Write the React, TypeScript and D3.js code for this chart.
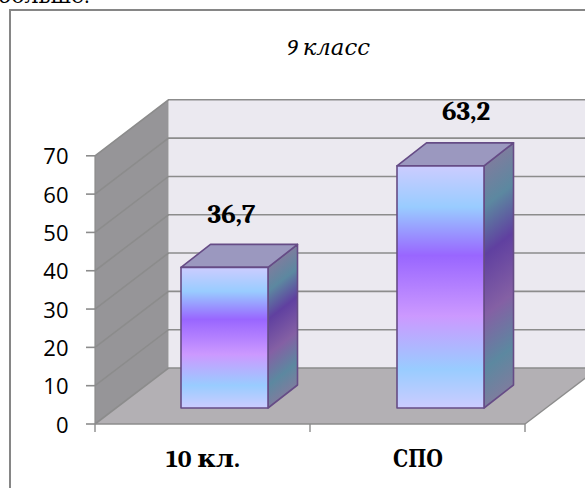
import React from "react";
import * as d3 from "d3";

const categories = ["10 кл.", "СПО"];
const values = [36.7, 63.2];
const valueLabels = ["36,7", "63,2"];
const yTicks = [0, 10, 20, 30, 40, 50, 60, 70];
const chartTitle = "9 класс";
const pageText = "больше:";

const W = 585, H = 488;
const y = d3.scaleLinear().domain([0, 70]).range([424, 155.8]);
const x = d3.scaleBand<string>().domain(categories).range([118, 550]);
const floorDX = 73.5, floorDY = -56;
const barDX = 29.5, barDY = -23;
const barW = 87;
const barBottomShift = -16;
const labelX = [231.5, 466];
const labelY = [222.5, 120];
const catX = [166, 393];
const catW = [74, 50];

const serif = "'Cambria', 'DejaVu Serif', serif";
const sans = "'Open Sans', 'Noto Sans', sans-serif";
const pts = (a: number[][]) => a.map(p => p.join(",")).join(" ");

const frontStops: [number, string][] = [[0, "#ccccff"], [0.17, "#99ccff"], [0.37, "#9966ff"], [0.62, "#cc99ff"], [0.84, "#99ccff"], [1, "#ccccff"]];
const sideStops: [number, string][] = [[0, "#7d7d9e"], [0.17, "#5c88a0"], [0.37, "#6040a0"], [0.62, "#8460a4"], [0.84, "#5c88a0"], [1, "#7d7d9e"]];

export default function App() {
  const y0 = y(0), yT = y(70), xL = 95, xR = 525;
  const barGeo = categories.map((c, i) => {
    const left = x(c)! + x.bandwidth() / 2 - barW / 2 - 1.5;
    const right = left + barW;
    const bot = y0 + barBottomShift;
    const top = y(values[i]) + barBottomShift;
    return { left, right, bot, top };
  });
  return (
    <svg width={W} height={H} viewBox={`0 0 ${W} ${H}`} style={{ position: "absolute", left: 0, top: 0, background: "#fff" }}>
      <defs>
        <linearGradient id="front" x1="0" y1="0" x2="0" y2="1">
          {frontStops.map(([o, col]) => <stop key={o} offset={o} stopColor={col} />)}
        </linearGradient>
        {barGeo.map((b, i) => {
          const h = b.bot - b.top;
          const nx = -barDY, ny = barDX;
          const s = (ny * h) / (nx * nx + ny * ny);
          return (
            <linearGradient key={i} id={`side${i}`} gradientUnits="userSpaceOnUse" x1={b.right} y1={b.top} x2={b.right + s * nx} y2={b.top + s * ny}>
              {sideStops.map(([o, col]) => <stop key={o} offset={o} stopColor={col} />)}
            </linearGradient>
          );
        })}
      </defs>
      <text x={-2} y={3} fontFamily={serif} fontSize={22} fill="#000">{pageText}</text>
      <rect x={10} y={10} width={W + 20} height={H + 20} fill="#fff" stroke="#868686" strokeWidth={2} />
      <text x={287} y={55} textLength={83} lengthAdjust="spacingAndGlyphs" fontFamily={serif} fontStyle="italic" fontSize={23} fill="#000">{chartTitle}</text>

      <polygon points={pts([[xL + floorDX, yT + floorDY], [xR + floorDX, yT + floorDY], [xR + floorDX, y0 + floorDY], [xL + floorDX, y0 + floorDY]])} fill="#ebe9f0" />
      <polygon points={pts([[xL, y0], [xL, yT], [xL + floorDX, yT + floorDY], [xL + floorDX, y0 + floorDY]])} fill="#969598" />
      <polygon points={pts([[xL, y0], [xR, y0], [xR + floorDX, y0 + floorDY], [xL + floorDX, y0 + floorDY]])} fill="#b3b0b4" />

      {yTicks.map(t => (
        <g key={t} stroke="#8c8c8c" strokeWidth={1.6} fill="none">
          <polyline points={pts([[xL, y(t)], [xL + floorDX, y(t) + floorDY], [xR + floorDX, y(t) + floorDY]])} />
          <line x1={86} x2={xL} y1={y(t)} y2={y(t)} />
        </g>
      ))}
      <line x1={xL} x2={xL} y1={yT} y2={y0} stroke="#8c8c8c" strokeWidth={1.2} />
      <line x1={xL} x2={xR} y1={y0} y2={y0} stroke="#8c8c8c" strokeWidth={1.6} />
      <line x1={xR} x2={xR + floorDX} y1={y0} y2={y0 + floorDY} stroke="#8c8c8c" strokeWidth={1.4} />
      {[95, 310, 525].map(tx => (
        <line key={tx} x1={tx} x2={tx} y1={y0} y2={y0 + 8} stroke="#8c8c8c" strokeWidth={1.4} />
      ))}
      {yTicks.map(t => (
        <text key={t} x={68.5} y={y(t) + 8.5} textAnchor="end" fontFamily={sans} fontSize={22} fill="#000">{t}</text>
      ))}

      {categories.map((c, i) => {
        const { left, right, bot, top } = barGeo[i];
        return (
          <g key={c} stroke="#664c86" strokeWidth={1.6} strokeLinejoin="round">
            <polygon points={pts([[right, top], [right + barDX, top + barDY], [right + barDX, bot + barDY], [right, bot]])} fill={`url(#side${i})`} />
            <polygon points={pts([[left, top], [left + barDX, top + barDY], [right + barDX, top + barDY], [right, top]])} fill="#9b98bf" />
            <rect x={left} y={top} width={barW} height={bot - top} fill="url(#front)" />
            <text x={labelX[i]} y={labelY[i]} textAnchor="middle" stroke="none" fill="#000" fontFamily={serif} fontWeight="bold" fontSize={27}>{valueLabels[i]}</text>
            <text x={catX[i]} y={467} textLength={catW[i]} lengthAdjust="spacingAndGlyphs" stroke="none" fill="#000" fontFamily={serif} fontWeight="bold" fontSize={24}>{c}</text>
          </g>
        );
      })}
    </svg>
  );
}
